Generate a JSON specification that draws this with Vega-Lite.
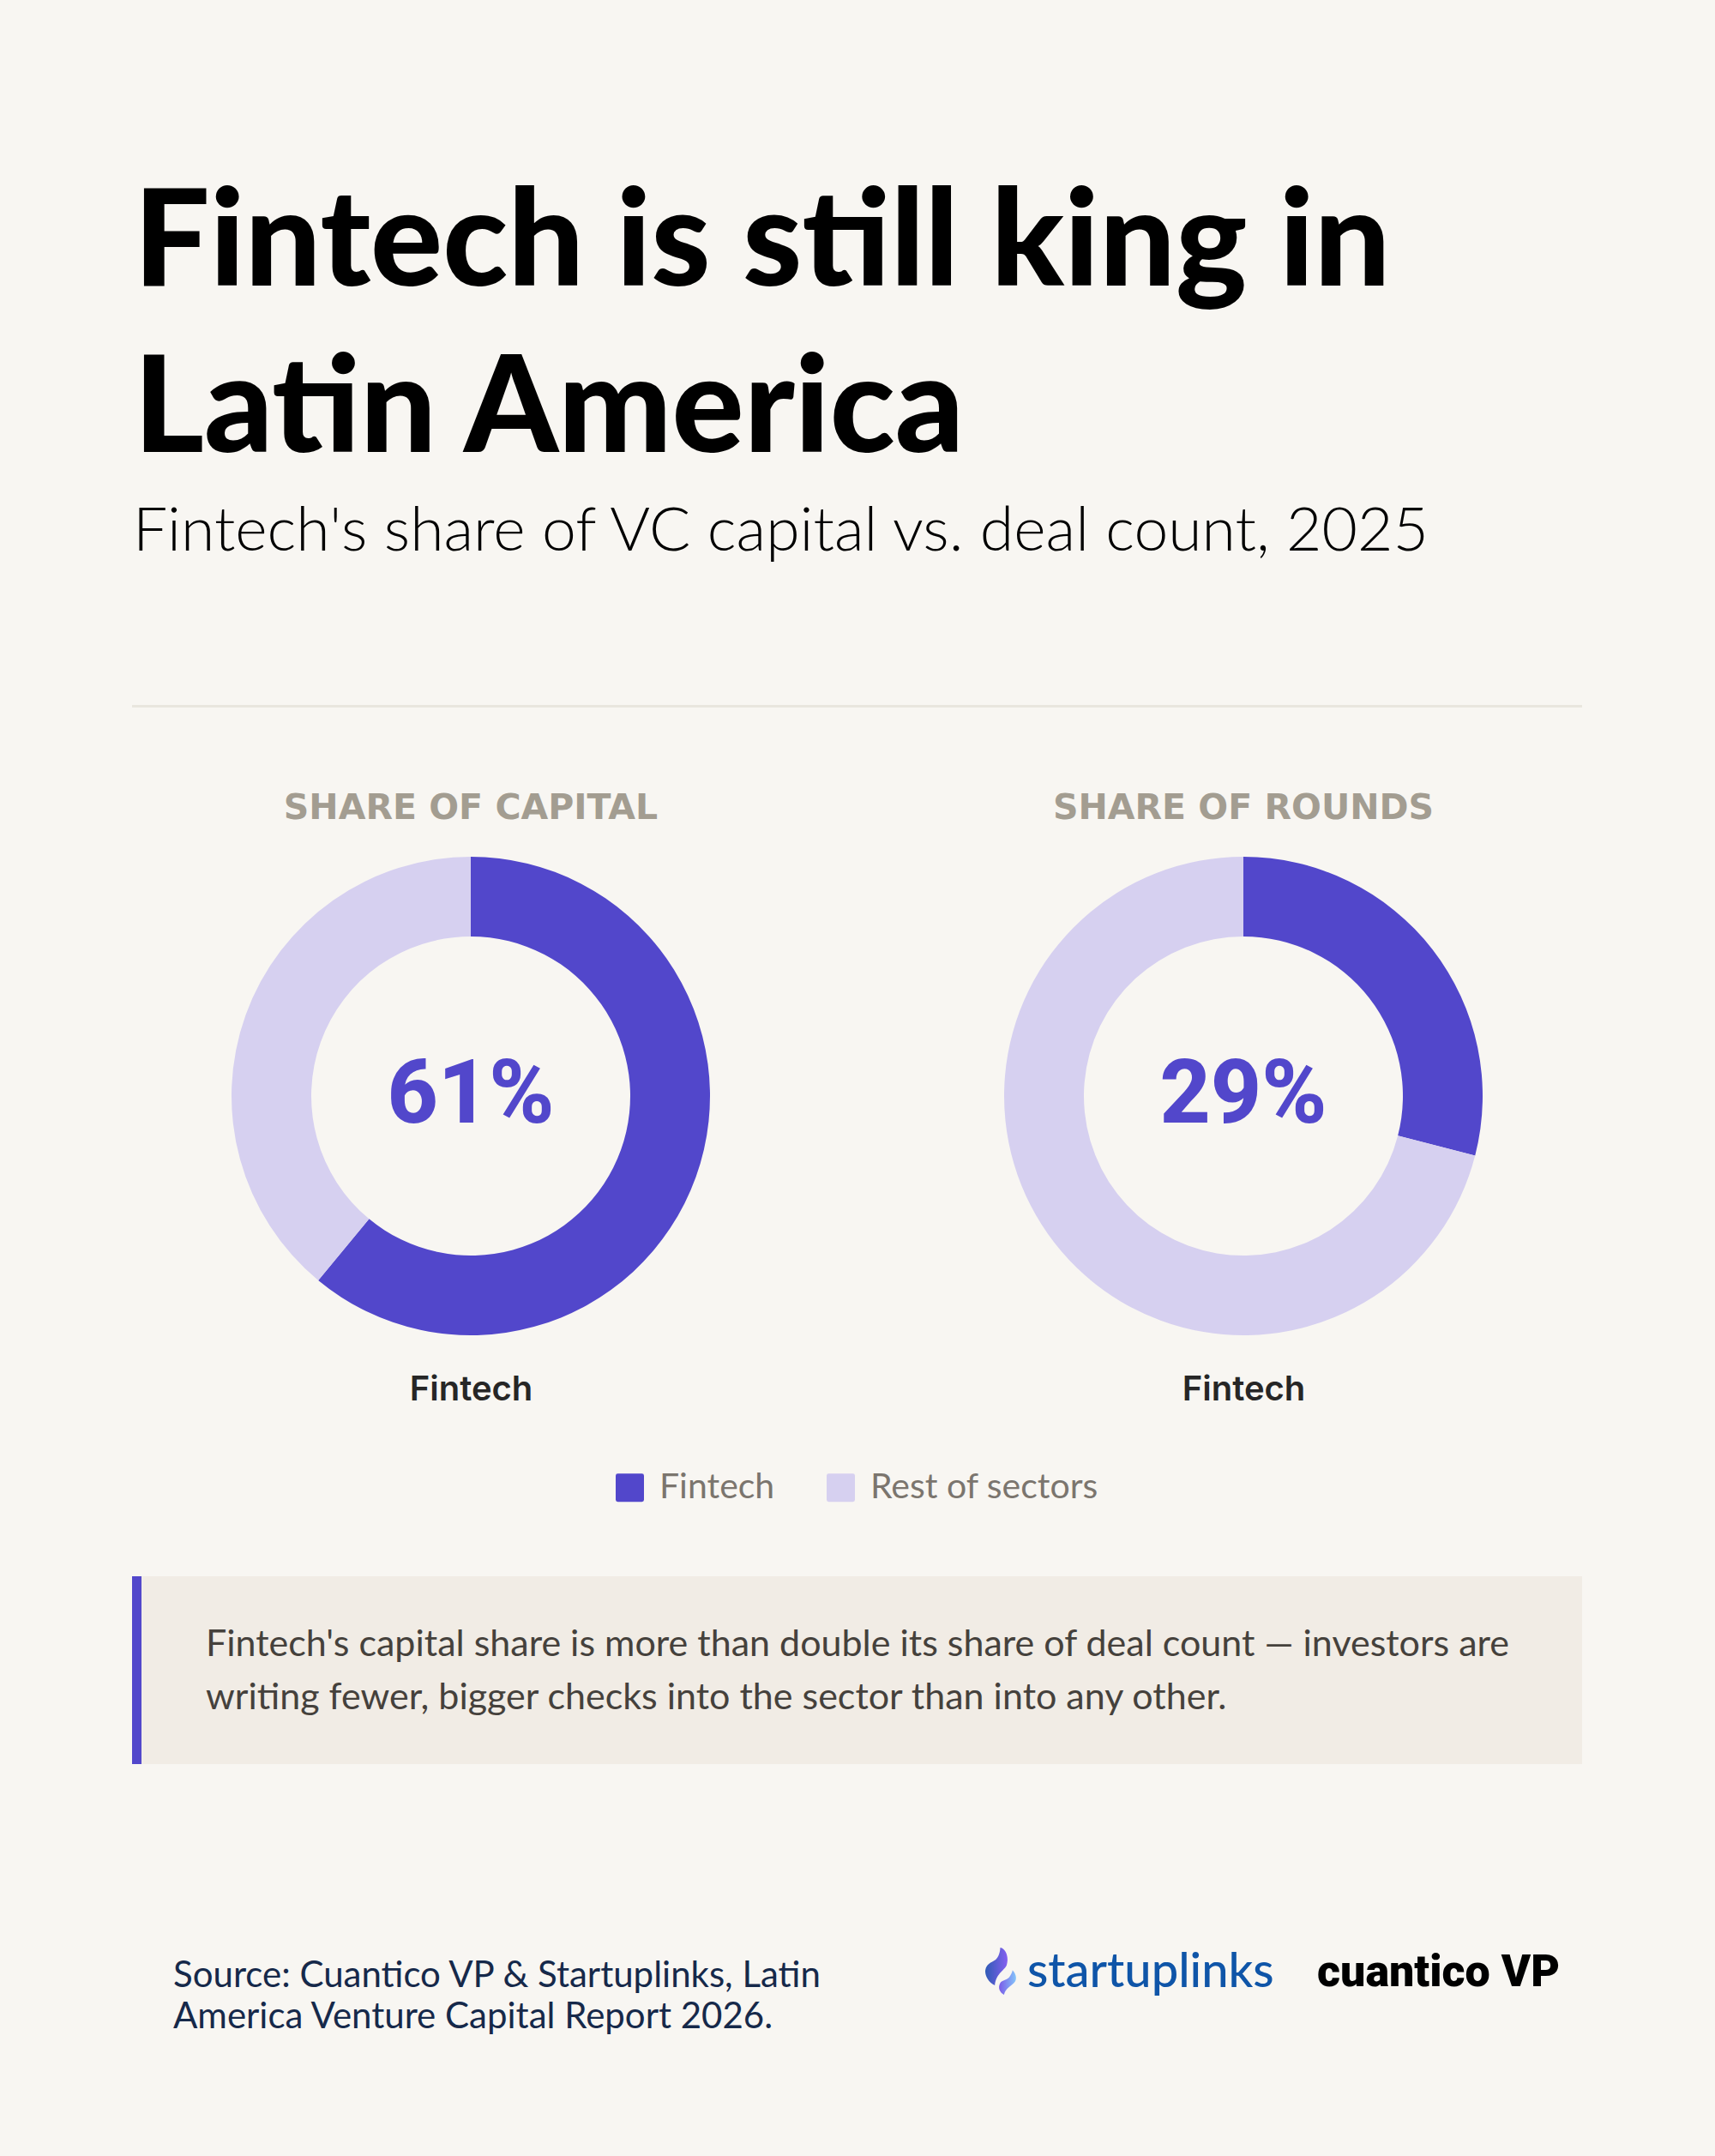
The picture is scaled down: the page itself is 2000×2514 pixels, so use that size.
{
  "$schema": "https://vega.github.io/schema/vega-lite/v6.json",
  "background": "#f8f6f2",
  "padding": {"left": 154, "right": 155, "top": 0, "bottom": 0},
  "spacing": 0,
  "datasets": {
    "shares": [
      {"panel": "capital", "segment": "Fintech", "share": 0.61},
      {"panel": "capital", "segment": "Rest of sectors", "share": 0.39},
      {"panel": "rounds", "segment": "Fintech", "share": 0.29},
      {"panel": "rounds", "segment": "Rest of sectors", "share": 0.71}
    ],
    "blank": [{"slot": "layout"}]
  },
  "data": {"name": "blank"},
  "vconcat": [
    {
      "width": 1691,
      "height": 560,
      "title": {
        "text": ["Fintech is still king in", "Latin America"],
        "orient": "top",
        "anchor": "start",
        "frame": "group",
        "baseline": "alphabetic",
        "offset": -684,
        "dx": 2,
        "limit": 0,
        "lineHeight": 194,
        "font": "Lato",
        "fontSize": 157,
        "fontWeight": 900,
        "color": "#000000"
      },
      "mark": {"type": "rect", "opacity": 0},
      "encoding": {}
    },
    {
      "width": 1691,
      "height": 262,
      "title": {
        "text": "Fintech's share of VC capital vs. deal count, 2025",
        "orient": "top",
        "anchor": "start",
        "frame": "group",
        "baseline": "alphabetic",
        "offset": -153,
        "dx": 1,
        "limit": 0,
        "font": "Lato",
        "fontSize": 71.5,
        "fontWeight": 300,
        "color": "#000000"
      },
      "mark": {"type": "rect", "opacity": 0},
      "encoding": {}
    },
    {
      "width": 1691,
      "height": 3,
      "mark": {"type": "rect", "color": "#e9e6de"},
      "encoding": {}
    },
    {
      "width": 1691,
      "height": 97,
      "mark": {"type": "rect", "opacity": 0},
      "encoding": {}
    },
    {
      "spacing": 111,
      "hconcat": [
        {
          "width": 790,
          "height": 556,
          "title": {
            "text": "SHARE OF CAPITAL",
            "orient": "top",
            "anchor": "middle",
            "baseline": "alphabetic",
            "offset": 3,
            "font": "DejaVu Sans",
            "fontSize": 41,
            "fontWeight": "bold",
            "color": "#a39d91"
          },
          "data": {"name": "shares"},
          "transform": [{"filter": "datum.panel === 'capital'"}],
          "layer": [
            {
              "mark": {"type": "arc", "outerRadius": 279, "innerRadius": 186},
              "encoding": {
                "theta": {"field": "share", "type": "quantitative", "stack": true},
                "order": {"field": "segment", "sort": "ascending"},
                "color": {
                  "field": "segment",
                  "type": "nominal",
                  "scale": {"domain": ["Fintech", "Rest of sectors"], "range": ["#5247cb", "#d6d0f0"]},
                  "legend": {
                    "title": null,
                    "orient": "none",
                    "legendX": 560,
                    "legendY": 1714,
                    "direction": "horizontal",
                    "symbolType": "M-0.85,-1 H0.85 Q1,-1 1,-0.85 V0.85 Q1,1 0.85,1 H-0.85 Q-1,1 -1,0.85 V-0.85 Q-1,-1 -0.85,-1 Z",
                    "symbolSize": 1089,
                    "symbolStrokeWidth": 0,
                    "labelFont": "Lato",
                    "labelFontSize": 41,
                    "labelColor": "#7b756e",
                    "labelOffset": 14,
                    "columnPadding": 56,
                    "labelLimit": 400
                  }
                }
              }
            },
            {
              "transform": [{"filter": "datum.segment === 'Fintech'"}],
              "mark": {"type": "text", "font": "Roboto", "fontSize": 103, "fontWeight": 800, "color": "#5247cb", "baseline": "middle"},
              "encoding": {
                "x": {
                  "field": "segment",
                  "type": "nominal",
                  "axis": {"title": null, "domain": false, "ticks": false, "grid": false, "labelAngle": 0, "labelPadding": 76, "labelBaseline": "alphabetic", "labelFont": "Inter", "labelFontSize": 40, "labelFontWeight": 600, "labelColor": "#262626"}
                },
                "text": {"field": "share", "type": "quantitative", "format": ".0%"}
              }
            }
          ]
        },
        {
          "width": 790,
          "height": 556,
          "title": {
            "text": "SHARE OF ROUNDS",
            "orient": "top",
            "anchor": "middle",
            "baseline": "alphabetic",
            "offset": 3,
            "font": "DejaVu Sans",
            "fontSize": 41,
            "fontWeight": "bold",
            "color": "#a39d91"
          },
          "data": {"name": "shares"},
          "transform": [{"filter": "datum.panel === 'rounds'"}],
          "layer": [
            {
              "mark": {"type": "arc", "outerRadius": 279, "innerRadius": 186},
              "encoding": {
                "theta": {"field": "share", "type": "quantitative", "stack": true},
                "order": {"field": "segment", "sort": "ascending"},
                "color": {"field": "segment", "type": "nominal"}
              }
            },
            {
              "transform": [{"filter": "datum.segment === 'Fintech'"}],
              "mark": {"type": "text", "font": "Roboto", "fontSize": 103, "fontWeight": 800, "color": "#5247cb", "baseline": "middle"},
              "encoding": {
                "x": {
                  "field": "segment",
                  "type": "nominal",
                  "axis": {"title": null, "domain": false, "ticks": false, "grid": false, "labelAngle": 0, "labelPadding": 76, "labelBaseline": "alphabetic", "labelFont": "Inter", "labelFontSize": 40, "labelFontWeight": 600, "labelColor": "#262626"}
                },
                "text": {"field": "share", "type": "quantitative", "format": ".0%"}
              }
            }
          ]
        }
      ]
    },
    {
      "width": 1691,
      "height": 198,
      "mark": {"type": "rect", "opacity": 0},
      "encoding": {}
    },
    {
      "spacing": 0,
      "hconcat": [
        {
          "width": 11,
          "height": 219,
          "mark": {"type": "rect", "color": "#5247cb"},
          "encoding": {}
        },
        {
          "width": 1680,
          "height": 219,
          "title": {
            "text": [
              "Fintech's capital share is more than double its share of deal count — investors are",
              "writing fewer, bigger checks into the sector than into any other."
            ],
            "orient": "top",
            "anchor": "start",
            "frame": "group",
            "baseline": "alphabetic",
            "offset": -198,
            "dx": 75,
            "limit": 0,
            "lineHeight": 62,
            "font": "Lato",
            "fontSize": 43,
            "fontWeight": 400,
            "color": "#45413c"
          },
          "mark": {"type": "rect", "color": "#f1ece5"},
          "encoding": {}
        }
      ]
    },
    {
      "width": 1691,
      "height": 206,
      "mark": {"type": "rect", "opacity": 0},
      "encoding": {}
    },
    {
      "spacing": 0,
      "hconcat": [
        {
          "width": 995,
          "height": 110,
          "title": {
            "text": ["Source: Cuantico VP & Startuplinks, Latin", "America Venture Capital Report 2026."],
            "orient": "top",
            "anchor": "start",
            "frame": "group",
            "baseline": "alphabetic",
            "offset": -144,
            "dx": 48,
            "limit": 0,
            "lineHeight": 48,
            "font": "Lato",
            "fontSize": 42,
            "fontWeight": 400,
            "color": "#16294a"
          },
          "mark": {"type": "rect", "opacity": 0},
          "encoding": {}
        },
        {
          "width": 36,
          "height": 71,
          "layer": [
            {
              "mark": {
                "type": "point",
                "filled": true,
                "opacity": 1,
                "size": 3025,
                "shape": "M-0.02,-1 C0.25,-0.95 0.35,-0.55 0.25,-0.25 C0.12,0 -0.2,0.1 -0.25,0.6 C-0.55,0.45 -0.68,0.15 -0.65,-0.05 C-0.6,-0.35 -0.3,-0.4 -0.2,-0.5 C-0.1,-0.6 -0.02,-0.8 -0.02,-1 Z",
                "fill": {"gradient": "linear", "x1": 0, "y1": 0.5, "x2": 1, "y2": 0.5, "stops": [{"offset": 0, "color": "#2f5bb5"}, {"offset": 1, "color": "#8560f0"}]}
              },
              "encoding": {}
            },
            {
              "mark": {
                "type": "point",
                "filled": true,
                "opacity": 1,
                "size": 3025,
                "shape": "M0.5,-0.05 C0.68,0.15 0.72,0.4 0.5,0.55 C0.35,0.68 0.2,0.75 0.14,1 C-0.05,0.9 -0.12,0.7 -0.03,0.52 C0.05,0.35 0.3,0.4 0.4,0.2 C0.45,0.1 0.5,0.03 0.5,-0.05 Z",
                "fill": {"gradient": "linear", "x1": 0, "y1": 0.5, "x2": 1, "y2": 0.5, "stops": [{"offset": 0, "color": "#7a5be8"}, {"offset": 1, "color": "#84c5fa"}]}
              },
              "encoding": {}
            }
          ]
        },
        {
          "width": 340,
          "height": 71,
          "title": {
            "text": "startuplinks",
            "orient": "top",
            "anchor": "start",
            "frame": "group",
            "baseline": "alphabetic",
            "offset": -110,
            "dx": 13,
            "limit": 0,
            "font": "Lato",
            "fontSize": 56,
            "fontWeight": 500,
            "color": "#0f55a8"
          },
          "mark": {"type": "rect", "opacity": 0},
          "encoding": {}
        },
        {
          "width": 320,
          "height": 71,
          "title": {
            "text": "cuantico VP",
            "orient": "top",
            "anchor": "start",
            "frame": "group",
            "baseline": "alphabetic",
            "offset": -105,
            "dx": 11,
            "limit": 0,
            "font": "Roboto",
            "fontSize": 52,
            "fontWeight": 900,
            "color": "#000000"
          },
          "mark": {"type": "rect", "opacity": 0},
          "encoding": {}
        }
      ]
    },
    {
      "width": 1691,
      "height": 145,
      "mark": {"type": "rect", "opacity": 0},
      "encoding": {}
    }
  ],
  "config": {
    "view": {"stroke": null}
  }
}
